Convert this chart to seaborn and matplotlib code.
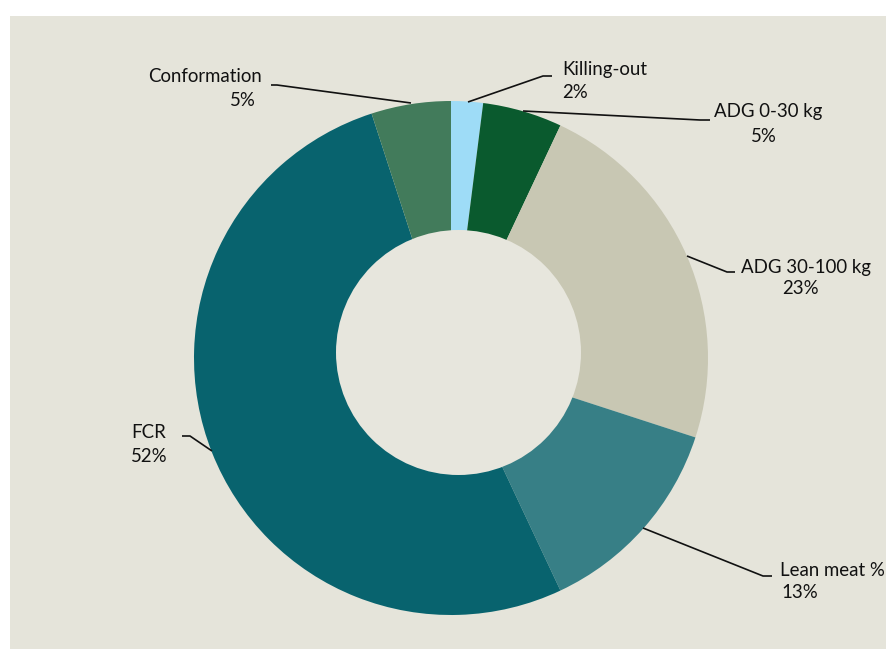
import matplotlib
matplotlib.use("Agg")
import matplotlib.pyplot as plt
import seaborn as sns
from matplotlib.patches import Rectangle, Circle

sns.set_theme(style="white")
plt.rcParams['font.family'] = ['Lato', 'DejaVu Sans']

# ---- data ----
categories = ["Killing-out", "ADG 0-30 kg", "ADG 30-100 kg", "Lean meat %", "FCR", "Conformation"]
values = [2, 5, 23, 13, 52, 5]
pct_labels = ["2%", "5%", "23%", "13%", "52%", "5%"]
colors = ["#9edcf7", "#0a5a2e", "#c8c7b3", "#377f86", "#08636e", "#427b5b"]

W, H = 886, 649
fig = plt.figure(figsize=(W / 100, H / 100), dpi=100, facecolor="white")
ax = fig.add_axes([0, 0, 1, 1])
ax.set_xlim(0, W)
ax.set_ylim(0, H)
ax.set_aspect("equal")
ax.axis("off")

def Y(y):
    return H - y

# panel background
ax.add_patch(Rectangle((10, Y(649)), W - 10, 649 - 16, facecolor="#e5e4da", edgecolor="none", zorder=0))

# donut
cx, cy, r = 451, 358, 257
ax.pie(values, colors=colors, startangle=90, counterclock=False,
       center=(cx, Y(cy)), radius=r, frame=True,
       wedgeprops=dict(linewidth=0, edgecolor="none"))
ax.set_xlim(0, W)
ax.set_ylim(0, H)
ax.axis("off")
ax.add_patch(Circle((458.5, Y(352.5)), 122.5, facecolor="#e7e6dd", edgecolor="none", zorder=5))

# leader lines (pixel coords, y down)
leaders = [
    [(468, 102), (543, 76), (552, 76)],
    [(523, 111), (700, 120), (710, 120)],
    [(687, 256), (727, 272), (735, 272)],
    [(643, 528), (763, 576), (772, 576)],
    [(212, 451), (190, 436), (182, 436)],
    [(411, 103), (277, 85), (271, 85)],
]
for pts in leaders:
    ax.plot([p[0] for p in pts], [Y(p[1]) for p in pts], color="#111111", lw=1.2, zorder=6,
            solid_capstyle="butt")

fs = 13.4
tc = "#111111"
# Killing-out
ax.text(562, Y(69), categories[0], ha="left", va="center", fontsize=fs, color=tc)
ax.text(562, Y(93), pct_labels[0], ha="left", va="center", fontsize=fs, color=tc)
# ADG 0-30
ax.text(768, Y(112), categories[1], ha="center", va="center", fontsize=fs, color=tc)
ax.text(764, Y(136), pct_labels[1], ha="center", va="center", fontsize=fs, color=tc)
# ADG 30-100
ax.text(741, Y(267), categories[2], ha="left", va="center", fontsize=fs, color=tc)
ax.text(801, Y(289), pct_labels[2], ha="center", va="center", fontsize=fs, color=tc)
# Lean meat
ax.text(780, Y(571), categories[3], ha="left", va="center", fontsize=fs, color=tc)
ax.text(781, Y(593), pct_labels[3], ha="left", va="center", fontsize=fs, color=tc)
# FCR
ax.text(131, Y(433), categories[4], ha="left", va="center", fontsize=fs, color=tc)
ax.text(131, Y(456), pct_labels[4], ha="left", va="center", fontsize=fs, color=tc)
# Conformation
ax.text(205, Y(76), categories[5], ha="center", va="center", fontsize=fs, color=tc)
ax.text(256, Y(100), pct_labels[5], ha="right", va="center", fontsize=fs, color=tc)

fig.savefig("out.png", dpi=100, facecolor="white")
